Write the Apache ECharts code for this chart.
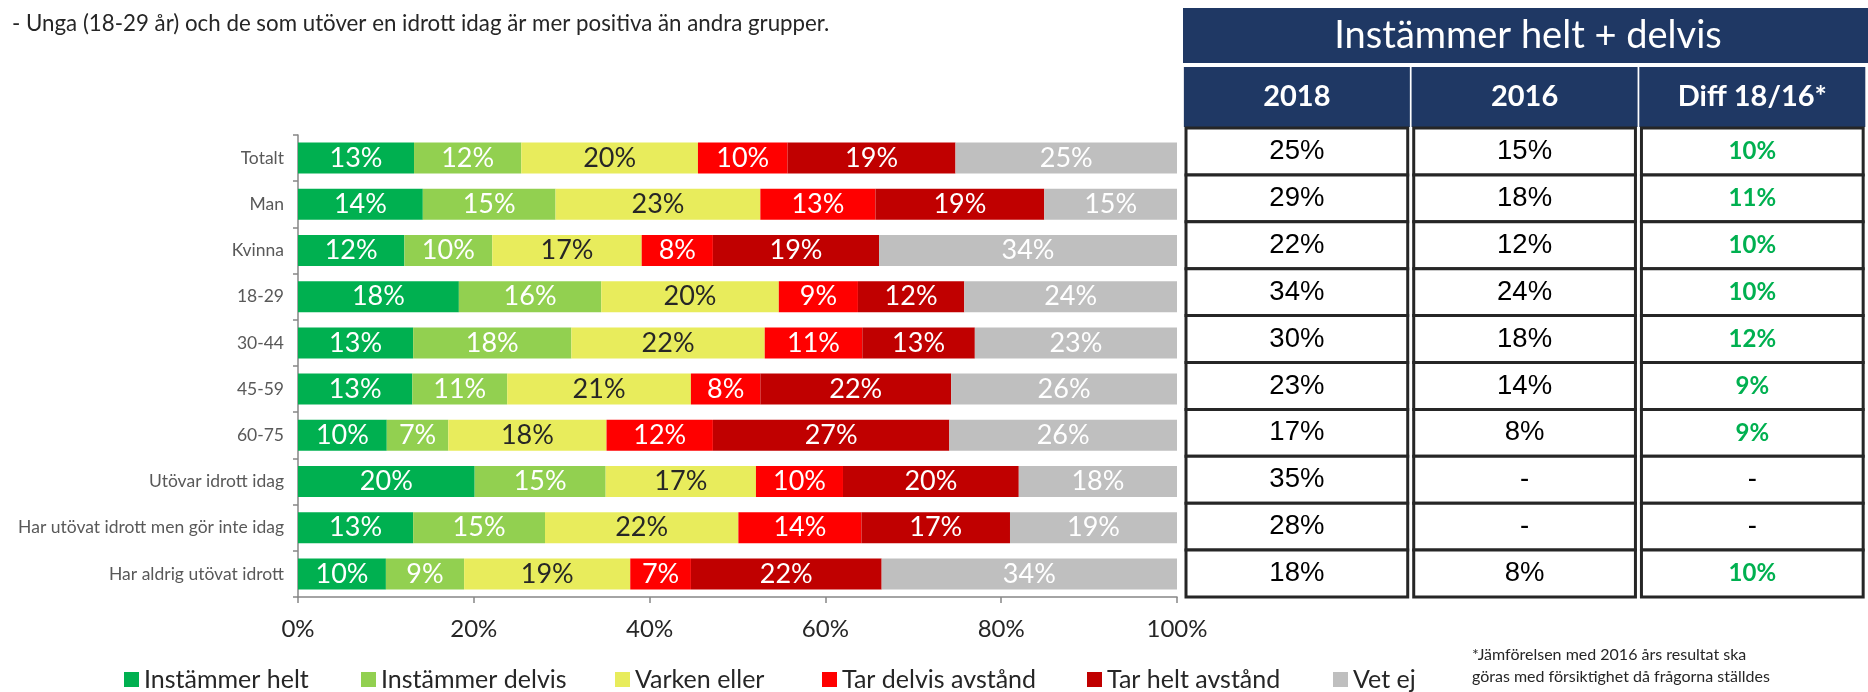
<!DOCTYPE html>
<html>
<head>
<meta charset="utf-8">
<script src="https://cdn.jsdelivr.net/npm/echarts@6/dist/echarts.min.js"></script>
<style>
  html, body { margin: 0; padding: 0; background: #fff; }
  #chart { width: 1868px; height: 692px; }
</style>
</head>
<body>
<div id="chart"></div>
<script>
// kategorier (uppifrån och ned)
const categories = ['Totalt', 'Man', 'Kvinna', '18-29', '30-44', '45-59', '60-75',
  'Utövar idrott idag', 'Har utövat idrott men gör inte idag', 'Har aldrig utövat idrott']

const seriesNames = ['Instämmer helt', 'Instämmer delvis', 'Varken eller',
  'Tar delvis avstånd', 'Tar helt avstånd', 'Vet ej']

// andelar i procent, avlästa från staplarna
const instammerHelt   = [13.2, 14.2, 12.1, 18.3, 13.1, 13.0, 10.1, 20.1, 13.1, 10.0]
const instammerDelvis = [12.2, 15.1, 10.0, 16.2, 18.0, 10.8, 7.0, 14.9, 15.0, 8.9]
const varkenEller     = [20.1, 23.3, 17.0, 20.2, 22.0, 20.9, 18.0, 17.1, 22.0, 18.9]
const tarDelvis       = [10.2, 13.1, 8.1, 9.0, 11.1, 7.9, 12.1, 9.9, 14.0, 6.9]
const tarHelt         = [19.1, 19.2, 18.9, 12.1, 12.8, 21.7, 26.9, 20.0, 16.9, 21.7]
const vetEj           = [25.2, 15.1, 33.9, 24.2, 23.0, 25.7, 25.9, 18.0, 19.0, 33.6]

// tabellen till höger
const tableHeaders = ['2018', '2016', 'Diff 18/16*']
const table2018 = [25, 29, 22, 34, 30, 23, 17, 35, 28, 18]
const table2016 = [15, 18, 12, 24, 18, 14, 8, null, null, 8]
const tableDiff = [10, 11, 10, 10, 12, 9, 9, null, null, 10]

const seriesData = [instammerHelt, instammerDelvis, varkenEller, tarDelvis, tarHelt, vetEj]
const colors = ['#00B050', '#92D050', '#E8EC5C', '#FF0000', '#C00000', '#BFBFBF']
const labelColors = ['#fff', '#fff', '#262626', '#fff', '#fff', '#fff']
const legendLeft = [124, 361, 615, 822, 1087, 1333]

const FONT = 'Lato, "Open Sans", sans-serif'
const NAVY = '#1F3864'

const chart = echarts.init(document.getElementById('chart'))

const barSeries = seriesNames.map((name, i) => ({
  name,
  type: 'bar',
  stack: 'total',
  xAxisIndex: 0,
  yAxisIndex: 0,
  barCategoryGap: '33%',
  itemStyle: { color: colors[i] },
  label: {
    show: true,
    position: 'inside',
    color: labelColors[i],
    fontFamily: FONT,
    fontSize: 27,
    formatter: p => Math.round(p.value) + '%'
  },
  data: seriesData[i]
}))

// cellerna i tabellen
const tableColumns = [table2018, table2016, tableDiff]
const cellData = []
tableColumns.forEach((col, c) => {
  col.forEach((v, r) => cellData.push([c, r]))
})

function renderCell(params, api) {
  const c = api.value(0)
  const r = api.value(1)
  const v = tableColumns[c][r]
  const pt = api.coord([c, r])
  const size = api.size([1, 1])
  const w = size[0] - 6
  const h = size[1]
  const green = c === 2 && v !== null
  return {
    type: 'group',
    children: [
      {
        type: 'rect',
        shape: { x: pt[0] - w / 2, y: pt[1] - h / 2, width: w, height: h },
        style: { fill: '#fff', stroke: '#262626', lineWidth: 3 }
      },
      {
        type: 'text',
        style: {
          text: v === null ? '-' : v + '%',
          x: pt[0],
          y: pt[1],
          align: 'center',
          verticalAlign: 'middle',
          fill: green ? '#00B050' : '#000',
          font: green ? 'bold 24px ' + FONT : '27.5px "Liberation Sans", Arial, sans-serif'
        }
      }
    ]
  }
}

const option = {
  backgroundColor: '#fff',
  animation: false,
  title: [
    {
      text: '- Unga (18-29 år) och de som utöver en idrott idag är mer positiva än andra grupper.',
      left: 7,
      top: 8,
      textStyle: { fontFamily: FONT, fontSize: 22.3, fontWeight: 'normal', color: '#262626' }
    },
    {
      text: '*Jämförelsen med 2016 års resultat ska\ngöras med försiktighet då frågorna ställdes',
      left: 1467,
      top: 639,
      textStyle: { fontFamily: FONT, fontSize: 16, fontWeight: 'normal', color: '#262626', lineHeight: 22 }
    }
  ],
  graphic: [
    {
      type: 'rect',
      x: 1183,
      y: 8,
      shape: { width: 685, height: 55 },
      style: { fill: NAVY }
    },
    {
      type: 'text',
      x: 1528,
      y: 36,
      style: {
        text: 'Instämmer helt + delvis',
        align: 'center',
        verticalAlign: 'middle',
        fill: '#fff',
        font: '38px ' + FONT
      }
    }
  ],
  legend: seriesNames.map((name, i) => ({
    data: [name],
    left: legendLeft[i],
    top: 667,
    padding: 0,
    itemWidth: 15,
    itemHeight: 15,
    icon: 'rect',
    textStyle: { fontFamily: FONT, fontSize: 25, color: '#262626' }
  })),
  grid: [
    { left: 298, top: 135, width: 879, height: 462 },
    { left: 1183, top: 128, width: 685, height: 469 }
  ],
  xAxis: [
    {
      type: 'value',
      gridIndex: 0,
      min: 0,
      max: 100,
      interval: 20,
      axisLine: { show: true, lineStyle: { color: '#868686', width: 1.5 } },
      axisTick: { show: true, length: 6, lineStyle: { color: '#868686', width: 1.5 } },
      splitLine: { show: false },
      axisLabel: {
        formatter: '{value}%',
        margin: 20,
        color: '#262626',
        fontFamily: FONT,
        fontSize: 24
      }
    },
    {
      type: 'category',
      gridIndex: 1,
      position: 'top',
      data: tableHeaders,
      axisLine: { show: false },
      axisTick: { show: false },
      axisLabel: {
        margin: 1,
        width: 226,
        height: 60,
        lineHeight: 60,
        align: 'center',
        backgroundColor: NAVY,
        color: '#fff',
        fontFamily: FONT,
        fontWeight: 'bold',
        fontSize: 29
      }
    }
  ],
  yAxis: [
    {
      type: 'category',
      gridIndex: 0,
      inverse: true,
      data: categories,
      axisLine: { show: true, lineStyle: { color: '#868686', width: 1.5 } },
      axisTick: { show: true, length: 5, lineStyle: { color: '#868686', width: 1.5 } },
      axisLabel: {
        margin: 14,
        color: '#595959',
        fontFamily: FONT,
        fontSize: 17.5
      }
    },
    {
      type: 'category',
      gridIndex: 1,
      inverse: true,
      data: categories,
      show: false
    }
  ],
  series: [
    ...barSeries,
    {
      type: 'custom',
      name: 'tabell',
      xAxisIndex: 1,
      yAxisIndex: 1,
      renderItem: renderCell,
      data: cellData,
      z: 3
    }
  ]
}

chart.setOption(option)
</script>
</body>
</html>
